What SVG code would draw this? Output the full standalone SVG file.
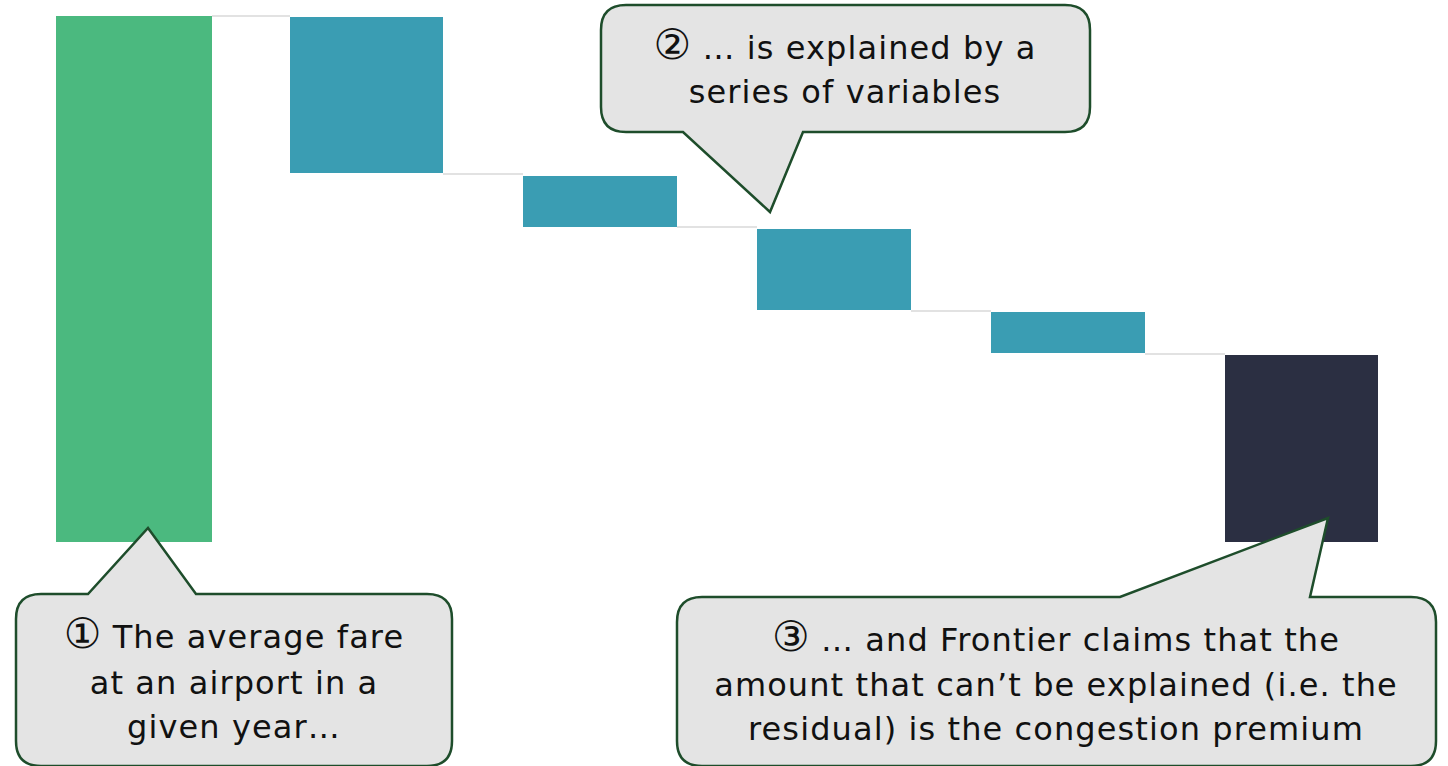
<svg xmlns="http://www.w3.org/2000/svg" width="1448" height="766" viewBox="0 0 1448 766">
<style>
.bg{fill:#ffffff}
.step{fill:#3a9db3}
.conn{stroke:#d9d9d9;stroke-width:1.5;fill:none}
.bubble{fill:#e4e4e4;stroke:#1e4d2b;stroke-width:2.5;stroke-linejoin:miter}
.lbl{font-family:"DejaVu Sans","Noto Sans",sans-serif;font-size:32px;letter-spacing:1.1px;fill:#111111;text-anchor:middle}
.num{font-size:42px;letter-spacing:0}
</style>
<rect class="bg" x="0" y="0" width="1448" height="766"/>
<g id="connectors">
<line class="conn" x1="212" y1="16" x2="290" y2="16"/>
<line class="conn" x1="443" y1="174" x2="523" y2="174"/>
<line class="conn" x1="677" y1="227" x2="757" y2="227"/>
<line class="conn" x1="911" y1="311" x2="991" y2="311"/>
<line class="conn" x1="1145" y1="354" x2="1225" y2="354"/>
</g>
<g id="bar-total"><rect x="56" y="16" width="156" height="526" fill="#4bb97f"/></g>
<g id="bar-1"><rect class="step" x="290" y="17" width="153" height="156"/></g>
<g id="bar-2"><rect class="step" x="523" y="176" width="154" height="51"/></g>
<g id="bar-3"><rect class="step" x="757" y="229" width="154" height="81"/></g>
<g id="bar-4"><rect class="step" x="991" y="312" width="154" height="41"/></g>
<g id="bar-residual"><rect x="1225" y="355" width="153" height="187" fill="#2b2f42"/></g>
<g id="callout-1">
<path class="bubble" d="M41,594 L88,594 L148,528 L196,594 L427,594 Q452,594 452,619 L452,741 Q452,766 427,766 L41,766 Q16,766 16,741 L16,619 Q16,594 41,594 Z"/>
<text class="lbl" x="234" y="648"><tspan class="num">①</tspan> The average fare</text>
<text class="lbl" x="234" y="694">at an airport in a</text>
<text class="lbl" x="234" y="738">given year…</text>
</g>
<g id="callout-2">
<path class="bubble" d="M626,5 L1065,5 Q1090,5 1090,30 L1090,107 Q1090,132 1065,132 L803,132 L770,212 L683,132 L626,132 Q601,132 601,107 L601,30 Q601,5 626,5 Z"/>
<text class="lbl" x="845" y="59"><tspan class="num">②</tspan> … is explained by a</text>
<text class="lbl" x="845" y="103">series of variables</text>
</g>
<g id="callout-3">
<path class="bubble" d="M702,597 L1120,597 L1328,518 L1310,597 L1411,597 Q1436,597 1436,622 L1436,741 Q1436,766 1411,766 L702,766 Q677,766 677,741 L677,622 Q677,597 702,597 Z"/>
<text class="lbl" x="1056" y="651"><tspan class="num">③</tspan> … and Frontier claims that the</text>
<text class="lbl" x="1056" y="696">amount that can’t be explained (i.e. the</text>
<text class="lbl" x="1056" y="740">residual) is the congestion premium</text>
</g>
</svg>
